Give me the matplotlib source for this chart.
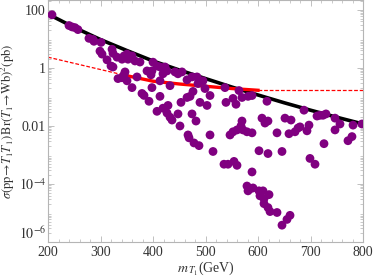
import numpy as np
import matplotlib
matplotlib.use("Agg")
import matplotlib.pyplot as plt
from matplotlib.ticker import FixedLocator, FixedFormatter, LogLocator, MultipleLocator

plt.rcParams["font.family"] = "Liberation Serif"
plt.rcParams["mathtext.fontset"] = "stix"

# theory cross section x Br^2 (black)
m_theory = [200, 250, 300, 350, 400, 450, 500, 550, 600, 650, 700, 750, 800]
sig_theory = [72, 25, 9.5, 4.0, 1.74, 0.85, 0.43, 0.22, 0.117, 0.063, 0.035, 0.020, 0.0117]

# experimental limit: extrapolated (dashed), measured (solid), flat (dashed)
m_lim_lo = [200, 350]
sig_lim_lo = [2.35, 0.54]
m_lim = [350, 400, 450, 500, 550, 600]
sig_lim = [0.54, 0.35, 0.28, 0.234, 0.195, 0.17]
m_lim_hi = [600, 800]
sig_lim_hi = [0.17, 0.17]

# scan points
m_pts = [207.6, 240, 245.7, 251.4, 257, 278, 285.7, 287.6, 301, 299, 302.9, 312.4,
         322, 323.8, 320, 323.8, 331.4, 341, 344.8, 350.5, 352.4, 360, 365.7, 375.2,
         333.3, 341, 344.8, 350.5, 346.7, 360, 369.5, 379, 382.9, 392.4, 388.6, 398,
         396.2, 398, 400, 407.6, 413.3, 422.9, 426.7, 419, 413.3, 432.4, 413.3, 441.9,
         447.6, 455.2, 464.8, 474.3, 483.8, 489.5, 485.7, 495.2, 499, 476.2, 470.5,
         464.8, 453.3, 508.6, 489.5, 502.9, 537.1, 539, 552.4, 558.1, 563.8, 569.5,
         581, 588.6, 407.6, 419, 428.6, 426.7, 432.4, 436.2, 447.6, 474.3, 481.9,
         451.4, 466.7, 468.6, 478.1, 487.6, 508.6, 514.3, 535.2, 542.9, 554.3, 560,
         546.7, 552.4, 560, 567.6, 571.4, 579, 588.6, 588.6, 579, 584.8, 581, 590.5,
         569.5, 601.9, 609.5, 603.8, 611.4, 611.4, 621, 619, 622.9, 636.2, 645.7,
         655.2, 661, 601.9, 619, 645.7, 636.2, 659, 670.5, 676.2, 613.3, 619, 617.1,
         607.6, 651.4, 662.9, 687.6, 693.3, 697.1, 680, 699, 708.6, 712.4, 718.1,
         723.8, 729.5, 725.7, 746.7, 746.7, 756.2, 771.4, 779, 781, 798]
sig_pts = [68, 29, 26, 24.5, 21, 10.5, 9.6, 8.3, 7.6, 3.8, 3.0, 1.9,
           4.4, 3.2, 1.17, 1.08, 2.35, 2.0, 2.6, 3.0, 2.0, 2.6, 1.74, 1.6,
           0.43, 0.46, 0.58, 0.36, 0.73, 0.21, 0.49, 0.132, 0.113, 0.071, 0.79, 0.79,
           0.58, 0.21, 1.58, 1.17, 1.08, 1.08, 0.79, 0.63, 0.36, 0.245, 0.105, 0.73,
           0.63, 0.73, 0.39, 0.49, 0.49, 0.36, 0.29, 0.36, 0.195, 0.155, 0.105,
           0.096, 0.065, 0.112, 0.065, 0.051, 0.21, 0.065, 0.089, 0.056, 0.166, 0.096,
           0.105, 0.112, 0.032, 0.041, 0.051, 0.028, 0.020, 0.016, 0.026, 0.026, 0.0148,
           0.010, 0.0049, 0.0039, 0.0026, 0.0021, 0.0049, 0.00132, 4.8e-4, 4.8e-4, 6.0e-4, 4.4e-4,
           0.0049, 0.0063, 0.0073, 0.010, 0.0073, 0.0063, 0.0058, 2.6e-4, 8.5e-5, 6.8e-5, 5.8e-5, 7.3e-5,
           0.0148, 5.8e-5, 5.8e-5, 3.9e-5, 3.1e-5, 2.1e-5, 4.3e-5, 1.54e-5, 1.12e-5, 1.04e-5, 3.8e-6,
           6.0e-6, 8.3e-6, 0.0014, 0.00112, 0.00132, 0.0058, 0.0054, 0.0063, 0.0085, 0.0126, 0.0148, 0.071,
           0.0186, 0.0186, 0.016, 0.035, 0.0068, 0.0107, 0.0093, 7.6e-4, 4.8e-4, 0.022, 0.0234,
           0.0234, 0.026, 0.00245, 0.0186, 0.0073, 0.0117, 0.0031, 0.0043, 0.0107, 0.0117]

ytick_vals = [1e2, 1, 1e-2, 1e-4, 1e-6]
ytick_labels = ["100", "1", "0.01", r"$10^{-4}$", r"$10^{-6}$"]

fig = plt.figure(figsize=(3.74, 2.77), dpi=100)
ax = fig.add_axes([48 / 374, 35 / 277, 315 / 374, 242 / 277])

ax.plot(m_theory, sig_theory, color="black", lw=2.6, zorder=2)
ax.plot(m_lim_lo, sig_lim_lo, color="red", lw=0.9, ls=(0, (3, 1.5)), zorder=2)
ax.plot(m_lim, sig_lim, color="red", lw=2.4, zorder=2)
ax.plot(m_lim_hi, sig_lim_hi, color="red", lw=0.9, ls=(0, (3, 1.5)), zorder=2)
ax.scatter(m_pts, sig_pts, s=40, color="#800080", edgecolors="none", zorder=3)

ax.set_yscale("log")
ax.set_xlim(200, 800)
ax.set_ylim(1e-6, 220)

ax.yaxis.set_major_locator(FixedLocator(ytick_vals))
ax.yaxis.set_major_formatter(FixedFormatter(ytick_labels))
ax.yaxis.set_minor_locator(LogLocator(base=10, subs=np.arange(2, 10), numticks=20))
ax.xaxis.set_major_locator(MultipleLocator(100))
ax.xaxis.set_minor_locator(MultipleLocator(20))

grey = "#b5b5b5"
for s in ax.spines.values():
    s.set_color(grey)
    s.set_linewidth(0.8)
ax.tick_params(which="both", direction="in", top=True, right=True, color=grey,
               labelsize=10, labelcolor="#333333")
ax.tick_params(axis="y", pad=1.5)
ax.tick_params(axis="x", pad=3)
ax.tick_params(which="major", length=4, width=0.6)
ax.tick_params(which="minor", length=2, width=0.5)

# lowest y label sits just above the "200" like in the original
ax.get_yticklabels()[-1].set_verticalalignment("bottom")

ax.set_xlabel(r"$m_{\,T_1}$(GeV)", fontsize=10, color="#333333", labelpad=0)
ax.set_ylabel(r"$\sigma(\mathrm{pp}\!\rightarrow\! T_1\bar{T}_1)\,\mathrm{Br}(T_1\!\rightarrow\!\mathrm{Wb})^2(\mathrm{pb})$",
              fontsize=9, color="#333333", labelpad=1)

fig.savefig("out.png", dpi=100)
